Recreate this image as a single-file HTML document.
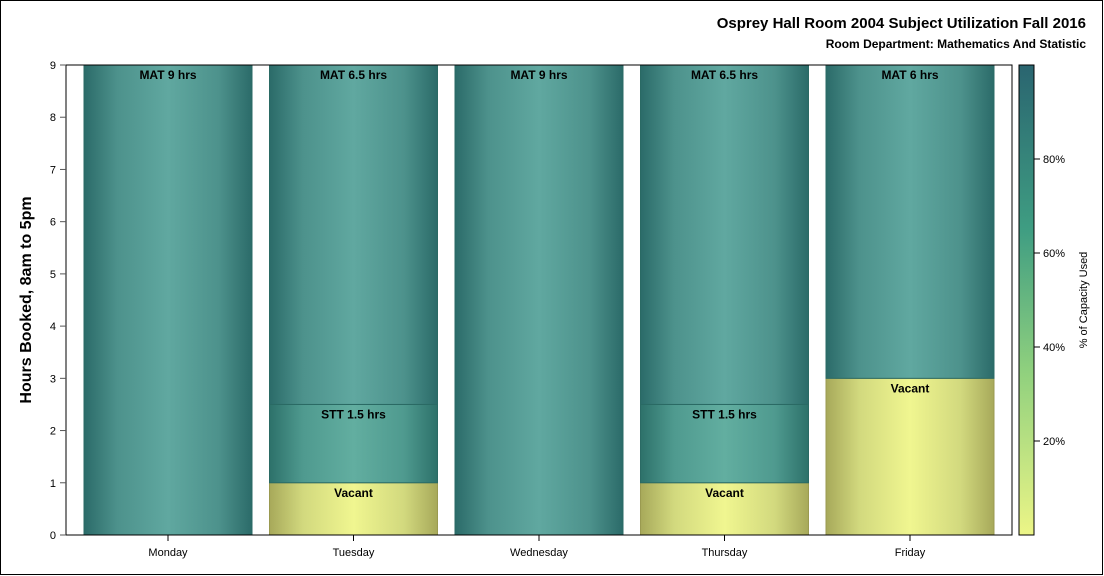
<!DOCTYPE html>
<html><head><meta charset="utf-8"><style>
body{margin:0;background:#fff;font-family:"Liberation Sans",sans-serif}
svg{display:block}
</style></head><body>
<svg id="c" width="1104" height="576" xmlns="http://www.w3.org/2000/svg">
<defs>
<linearGradient id="gT" x1="0" x2="1" y1="0" y2="0">
<stop offset="0" stop-color="#2b6b69"/><stop offset="0.2" stop-color="#4d928c"/><stop offset="0.5" stop-color="#60a8a0"/><stop offset="0.8" stop-color="#4d928c"/><stop offset="1" stop-color="#2b6b69"/></linearGradient>
<linearGradient id="gS" x1="0" x2="1" y1="0" y2="0">
<stop offset="0" stop-color="#2d716a"/><stop offset="0.2" stop-color="#4f9a8f"/><stop offset="0.5" stop-color="#62aea0"/><stop offset="0.8" stop-color="#4f9a8f"/><stop offset="1" stop-color="#2d716a"/></linearGradient>
<linearGradient id="gV" x1="0" x2="1" y1="0" y2="0">
<stop offset="0" stop-color="#a7a95a"/><stop offset="0.2" stop-color="#d2d97e"/><stop offset="0.5" stop-color="#f0f690"/><stop offset="0.8" stop-color="#d2d97e"/><stop offset="1" stop-color="#a7a95a"/></linearGradient>
<linearGradient id="gC" x1="0" x2="0" y1="1" y2="0">
<stop offset="0" stop-color="#ecf587"/><stop offset="0.35" stop-color="#8fd07e"/><stop offset="0.65" stop-color="#3f9d82"/><stop offset="1" stop-color="#2a6570"/></linearGradient>
</defs>
<rect x="0.5" y="0.5" width="1102" height="574" fill="#fff" stroke="#000"/>
<text x="1086" y="28" text-anchor="end" font-size="15" font-weight="bold">Osprey Hall Room 2004 Subject Utilization Fall 2016</text>
<text x="1086" y="48" text-anchor="end" font-size="12" font-weight="bold">Room Department:  Mathematics And Statistic</text>
<text transform="translate(31,300) rotate(-90)" text-anchor="middle" font-size="16" font-weight="bold">Hours Booked, 8am to 5pm</text>
<g id="bars"></g>
<rect x="66" y="65" width="946" height="470" fill="none" stroke="#000"/>
<g id="axes"></g>
<rect x="1019" y="65" width="15" height="470" fill="url(#gC)" stroke="#000"/>
<g id="leg"></g>
<text transform="translate(1087,300) rotate(-90)" text-anchor="middle" font-size="11">% of Capacity Used</text>
</svg>
<script>
const days=["Monday","Tuesday","Wednesday","Thursday","Friday"];
const vacant=[0,1,0,1,3];
const stt=[0,1.5,0,1.5,0];
const mat=[9,6.5,9,6.5,6];
const yTicks=[0,1,2,3,4,5,6,7,8,9];
const legTicks=[20,40,60,80];
const NS="http://www.w3.org/2000/svg";
function y(v){return 535-v*(470/9);}
function xc(i){return 168+i*185.5;}
function lp(p){return 535-p*(470/100);}
function mk(t,a,p){const e=document.createElementNS(NS,t);for(const k in a)e.setAttribute(k,a[k]);p.appendChild(e);return e;}
const bars=document.getElementById('bars'),axes=document.getElementById('axes'),leg=document.getElementById('leg');
const bw=168;
days.forEach((d,i)=>{
  const segs=[["Vacant",vacant[i],"url(#gV)","#9a9a50","Vacant"],["STT",stt[i],"url(#gS)","#2a6a64","STT "+stt[i]+" hrs"],["MAT",mat[i],"url(#gT)","#2a6a64","MAT "+mat[i]+" hrs"]];
  let base=0;
  segs.forEach(s=>{
    if(s[1]<=0)return;
    const r=mk('rect',{x:xc(i)-bw/2,y:y(base+s[1]),width:bw,height:y(base)-y(base+s[1]),fill:s[2],stroke:s[3],'stroke-width':1},bars);
    
    
    const t=mk('text',{x:xc(i),y:y(base+s[1])+14,'text-anchor':'middle','font-size':12,'font-weight':'bold'},bars);
    t.textContent=s[4];
    
    
    base+=s[1];
  });
  const tk=mk('line',{x1:xc(i),x2:xc(i),y1:535,y2:541,stroke:'#000'},axes);
  
  
  const tl=mk('text',{x:xc(i),y:556,'text-anchor':'middle','font-size':11},axes);
  tl.textContent=d;
  
  
});
yTicks.forEach(v=>{
  const l=mk('line',{x1:60,x2:66,y1:y(v),y2:y(v),stroke:'#555'},axes);
  
  
  const t=mk('text',{x:56,y:y(v)+4,'text-anchor':'end','font-size':11},axes);
  t.textContent=v;
  
  
});
legTicks.forEach(p=>{
  const l=mk('line',{x1:1034,x2:1040,y1:lp(p),y2:lp(p),stroke:'#000'},leg);
  
  
  const t=mk('text',{x:1043,y:lp(p)+4,'font-size':11},leg);
  t.textContent=p+'%';
  
  
});
</script>
</body></html>
